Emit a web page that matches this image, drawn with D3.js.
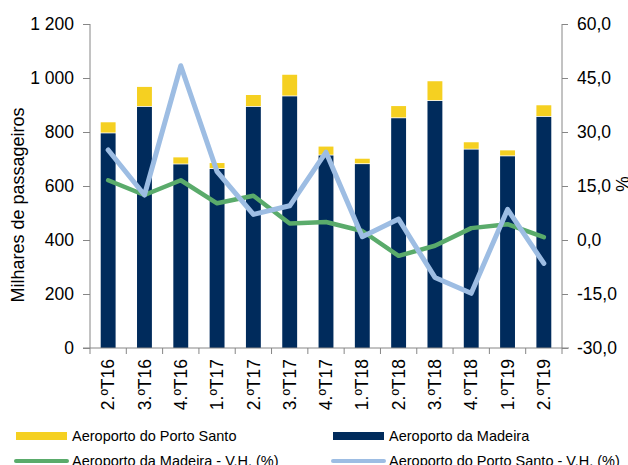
<!DOCTYPE html>
<html>
<head>
<meta charset="utf-8">
<script src="https://cdn.jsdelivr.net/npm/d3@7"></script>
<style>
  body { margin: 0; background: #fff; }
  svg { font-family: "Liberation Sans", Arial, sans-serif; }
  .axis path, .axis line { stroke: #868686; }
</style>
</head>
<body>
<div id="chart"></div>
<script>
// quarters on the x axis
var quarters = ["2.ºT16", "3.ºT16", "4.ºT16", "1.ºT17", "2.ºT17", "3.ºT17", "4.ºT17",
                "1.ºT18", "2.ºT18", "3.ºT18", "4.ºT18", "1.ºT19", "2.ºT19"];

// thousands of passengers
var madeira    = [795, 893, 680, 663, 893, 932, 713, 681, 851, 915, 735, 710, 856];
var portoSanto = [41, 74, 26, 22, 44, 80, 33, 20, 45, 73, 27, 22, 43];

// year-on-year change (%)
var madeiraVH    = [16.6, 12.5, 16.6, 10.2, 12.3, 4.6, 5.0, 2.5, -4.4, -1.6, 3.3, 4.4, 0.8];
var portoSantoVH = [25.0, 12.5, 48.4, 19.0, 7.1, 9.5, 24.4, 0.9, 5.8, -10.4, -14.8, 8.5, -6.5];

var leftTicks  = [0, 200, 400, 600, 800, 1000, 1200];
var rightTicks = [-30, -15, 0, 15, 30, 45, 60];

var w = 628;
var h = 465;
var padL = 90, padR = 562, padT = 24, padB = 348;

var colYellow = "#f5d021";
var colNavy   = "#002b5c";
var colGreen  = "#5aab6b";
var colBlue   = "#9dbde3";

var svg = d3.select("#chart")
            .append("svg")
            .attr("width", w)
            .attr("height", h);

var xscale = d3.scaleBand()
               .domain(quarters)
               .range([padL, padR])
               .paddingInner(0.59)
               .paddingOuter(0.295);

var yscale = d3.scaleLinear().domain([0, 1200]).range([padB, padT]);
var y2scale = d3.scaleLinear().domain([-30, 60]).range([padB, padT]);

var fmtLeft = function(d) { return d3.format(",")(d).replace(",", " "); };
var fmtRight = function(d) { return d3.format(".1f")(d).replace(".", ",").replace("−", "-"); };

// bars
var bars = svg.append("g");
bars.selectAll("rect.mad")
    .data(quarters)
    .enter()
    .append("rect")
    .attr("class", "mad")
    .attr("x", function(d) { return xscale(d); })
    .attr("width", xscale.bandwidth())
    .attr("y", function(d, i) { return yscale(madeira[i]); })
    .attr("height", function(d, i) { return yscale(0) - yscale(madeira[i]); })
    .attr("fill", colNavy);

bars.selectAll("rect.ps")
    .data(quarters)
    .enter()
    .append("rect")
    .attr("class", "ps")
    .attr("x", function(d) { return xscale(d); })
    .attr("width", xscale.bandwidth())
    .attr("y", function(d, i) { return yscale(madeira[i] + portoSanto[i]); })
    .attr("height", function(d, i) { return yscale(madeira[i]) - yscale(madeira[i] + portoSanto[i]) - 0.8; })
    .attr("fill", colYellow);

// axes
var xaxis = d3.axisBottom(xscale).tickSize(0).tickFormat("");
svg.append("g")
    .attr("class", "x axis")
    .attr("transform", "translate(0," + padB + ")")
    .call(xaxis)
    .call(function(g) { g.select(".domain").attr("d", "M" + (padL - 7) + ",0H" + (padR + 7)); });

// tick marks between the bands
var step = xscale.step();
svg.append("g")
    .selectAll("line")
    .data(d3.range(quarters.length + 1))
    .enter()
    .append("line")
    .attr("x1", function(i) { return padL + i * step; })
    .attr("x2", function(i) { return padL + i * step; })
    .attr("y1", padB)
    .attr("y2", padB + 6)
    .attr("stroke", "#868686");

svg.append("g")
    .selectAll("text")
    .data(quarters)
    .enter()
    .append("text")
    .attr("transform", function(d) {
        return "translate(" + (xscale(d) + xscale.bandwidth() / 2) + "," + 359 + ") rotate(-90)";
    })
    .attr("text-anchor", "end")
    .attr("dy", "0.35em")
    .attr("font-size", 17.5)
    .attr("fill", "#000")
    .text(function(d) { return d; });

var yaxis = d3.axisLeft(yscale).tickValues(leftTicks).tickSize(7).tickPadding(9).tickFormat(fmtLeft);
svg.append("g")
    .attr("class", "y axis")
    .attr("transform", "translate(" + padL + ",0)")
    .call(yaxis)
    .call(function(g) {
        g.select(".domain").attr("d", "M0," + padT + "V" + padB);
        g.selectAll("text").attr("font-size", 17.5).attr("fill", "#000").attr("font-family", null);
    });

var y2axis = d3.axisRight(y2scale).tickValues(rightTicks).tickSize(6).tickPadding(9).tickFormat(fmtRight);
svg.append("g")
    .attr("class", "y2 axis")
    .attr("transform", "translate(" + padR + ",0)")
    .call(y2axis)
    .call(function(g) {
        g.select(".domain").attr("d", "M0," + padT + "V" + padB);
        g.selectAll("text").attr("font-size", 17.5).attr("fill", "#000").attr("font-family", null);
    });

svg.append("text")
    .attr("transform", "translate(18," + 205 + ") rotate(-90)")
    .attr("text-anchor", "middle")
    .attr("dy", "0.35em")
    .attr("font-size", 18)
    .text("Milhares de passageiros");

svg.append("text")
    .attr("transform", "translate(622,184) rotate(90)")
    .attr("text-anchor", "middle")
    .attr("dy", "0.35em")
    .attr("font-size", 17.5)
    .text("%");

// lines
var line = function(vals) {
    return d3.line()
             .x(function(d, i) { return xscale(quarters[i]) + xscale.bandwidth() / 2; })
             .y(function(d) { return y2scale(d); })(vals);
};

svg.append("path")
    .attr("d", line(madeiraVH))
    .attr("fill", "none")
    .attr("stroke", colGreen)
    .attr("stroke-width", 4.5)
    .attr("stroke-linejoin", "round")
    .attr("stroke-linecap", "round");

svg.append("path")
    .attr("d", line(portoSantoVH))
    .attr("fill", "none")
    .attr("stroke", colBlue)
    .attr("stroke-width", 5)
    .attr("stroke-linejoin", "round")
    .attr("stroke-linecap", "round");

// legend
var legend = [
    {name: "Aeroporto do Porto Santo", type: "rect", color: colYellow, x: 16, y: 436},
    {name: "Aeroporto da Madeira", type: "rect", color: colNavy, x: 333, y: 436},
    {name: "Aeroporto da Madeira - V.H. (%)", type: "line", color: colGreen, x: 16, y: 461},
    {name: "Aeroporto do Porto Santo - V.H. (%)", type: "line", color: colBlue, x: 333, y: 461}
];

var lg = svg.append("g").selectAll("g")
            .data(legend)
            .enter()
            .append("g");

lg.filter(function(d) { return d.type == "rect"; })
    .append("rect")
    .attr("x", function(d) { return d.x; })
    .attr("y", function(d) { return d.y - 4; })
    .attr("width", 51)
    .attr("height", 8)
    .attr("fill", function(d) { return d.color; });

lg.filter(function(d) { return d.type == "line"; })
    .append("line")
    .attr("x1", function(d) { return d.x; })
    .attr("x2", function(d) { return d.x + 51; })
    .attr("y1", function(d) { return d.y; })
    .attr("y2", function(d) { return d.y; })
    .attr("stroke", function(d) { return d.color; })
    .attr("stroke-width", 4)
    .attr("stroke-linecap", "round");

lg.append("text")
    .attr("x", function(d) { return d.x + 56; })
    .attr("y", function(d) { return d.y; })
    .attr("dy", "0.35em")
    .attr("font-size", 14.5)
    .text(function(d) { return d.name; });
</script>
</body>
</html>
